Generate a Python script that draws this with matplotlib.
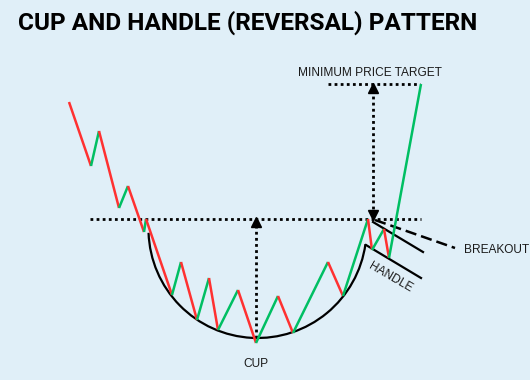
import matplotlib
matplotlib.use('Agg')
import matplotlib.pyplot as plt
from matplotlib.patches import Arc

# price path of the pattern (time, price)
t = [69, 91, 99, 119, 128, 144, 146, 172, 181, 197, 209, 218, 238, 256,
     278, 293, 328, 343, 368, 372, 384, 389, 421]
price = [278, 214, 249, 172, 194, 148, 161, 85, 118, 60, 102, 50, 90, 37,
         84, 47, 118, 84, 161, 130, 151, 122, 296]

resistance = 161
target = 296
cup_low = 42

red = '#ff3131'
green = '#00bf63'
bg = '#e0eff8'

fig = plt.figure(figsize=(5.3, 3.8), dpi=100, facecolor=bg)
ax = fig.add_axes([0, 0, 1, 1])
ax.set_facecolor(bg)
ax.set_xlim(0, 530)
ax.set_ylim(0, 380)
ax.axis('off')

# cup outline
ax.add_patch(Arc((257.5, 151), 218, 218, theta1=182, theta2=352,
                 color='black', lw=1.6, zorder=2))

# dotted resistance / target lines
dots = (0, (1, 1.2))
ax.plot([90, 421], [resistance, resistance], color='black', lw=2, linestyle=dots, zorder=1)
ax.plot([328, 420], [target, target], color='black', lw=2, linestyle=dots, zorder=1)

# measured move arrows
ax.plot([256, 256], [cup_low, resistance - 4], color='black', lw=2, linestyle=dots, zorder=1)
ax.plot([256], [resistance - 3], marker='^', color='black', ms=6.5, zorder=3)
ax.plot([373, 373], [resistance + 4, target - 4], color='black', lw=2, linestyle=dots, zorder=1)
ax.plot([373], [target - 4], marker='^', color='black', ms=6.5, zorder=3)
ax.plot([373], [resistance + 4], marker='v', color='black', ms=6.5, zorder=3)

# handle channel + breakout
ax.plot([373, 423], [158, 128], color='black', lw=1.6, zorder=2)
ax.plot([366, 421], [135, 102], color='black', lw=1.6, zorder=2)
ax.plot([375, 455], [160, 132], color='black', lw=1.8, linestyle=(0, (4.5, 2)), zorder=2)

# price segments coloured by direction
for i in range(len(t) - 1):
    c = green if price[i + 1] > price[i] else red
    ax.plot(t[i:i + 2], price[i:i + 2], color=c, lw=1.8, solid_capstyle='butt', zorder=4)

lbl = dict(family='Liberation Sans', fontsize=8.6, color='#1a1a1a')
ax.text(370, 307, 'MINIMUM PRICE TARGET', ha='center', va='center', **lbl)
ax.text(464, 130, 'BREAKOUT', ha='left', va='center', **lbl)
ax.text(390, 103, 'HANDLE', ha='center', va='center', rotation=-30, **lbl)
ax.text(256, 16, 'CUP', ha='center', va='center', **lbl)

title = ax.text(18, 357, 'CUP AND HANDLE (REVERSAL) PATTERN', ha='left', va='center',
                family='Roboto', fontweight='bold', fontsize=17, color='black')
fig.canvas.draw()
w = title.get_window_extent().width
title.set_fontsize(17 * 460 / w)

fig.savefig('out.png', dpi=100, facecolor=bg)
